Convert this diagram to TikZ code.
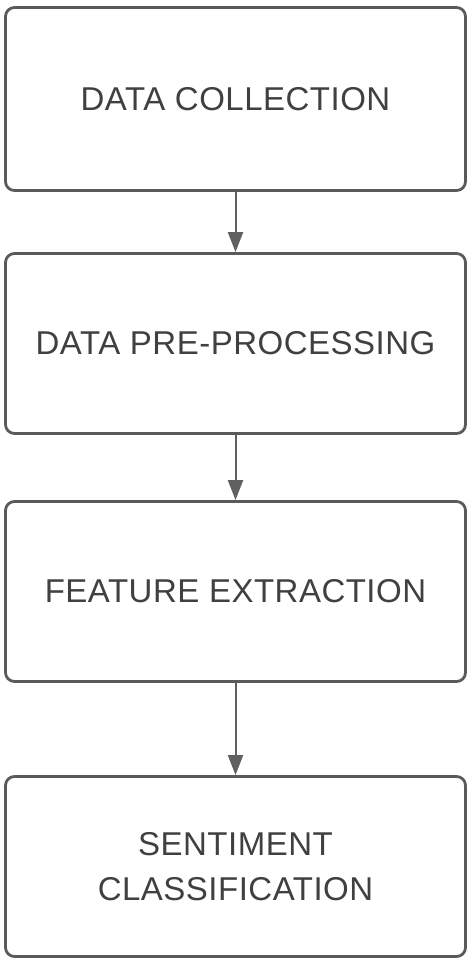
\documentclass[tikz,border=0pt]{standalone}
\usepackage{fontspec}
\setmainfont[LetterSpace=1.5]{Liberation Sans}
\usetikzlibrary{arrows.meta}
\definecolor{boxline}{HTML}{5A5A5A}
\definecolor{txt}{HTML}{404040}
\definecolor{arr}{HTML}{606060}
\tikzset{
  stepbox/.style={draw=boxline, line width=2.8pt, rounded corners=9pt, minimum width=460pt, inner sep=0pt, align=center, text=txt, font=\fontsize{33}{45}\selectfont},
  flow/.style={draw=arr, line width=2pt, -{Triangle[width=15pt,length=20pt]}}
}
\begin{document}
\begin{tikzpicture}[x=1pt,y=-1pt]
\useasboundingbox[fill=white] (0,0) rectangle (471,968);
\node[stepbox, minimum height=183pt] (a) at (235.5,99) {DATA COLLECTION};
\node[stepbox, minimum height=180pt] (b) at (235.5,343.5) {DATA PRE-PROCESSING};
\node[stepbox, minimum height=180pt] (c) at (235.5,591.5) {FEATURE EXTRACTION};
\node[stepbox, minimum height=180pt] (d) at (235.5,866.5) {SENTIMENT\\CLASSIFICATION};
\draw[flow] (a.south) -- (b.north);
\draw[flow] (b.south) -- (c.north);
\draw[flow] (c.south) -- (d.north);
\end{tikzpicture}
\end{document}
